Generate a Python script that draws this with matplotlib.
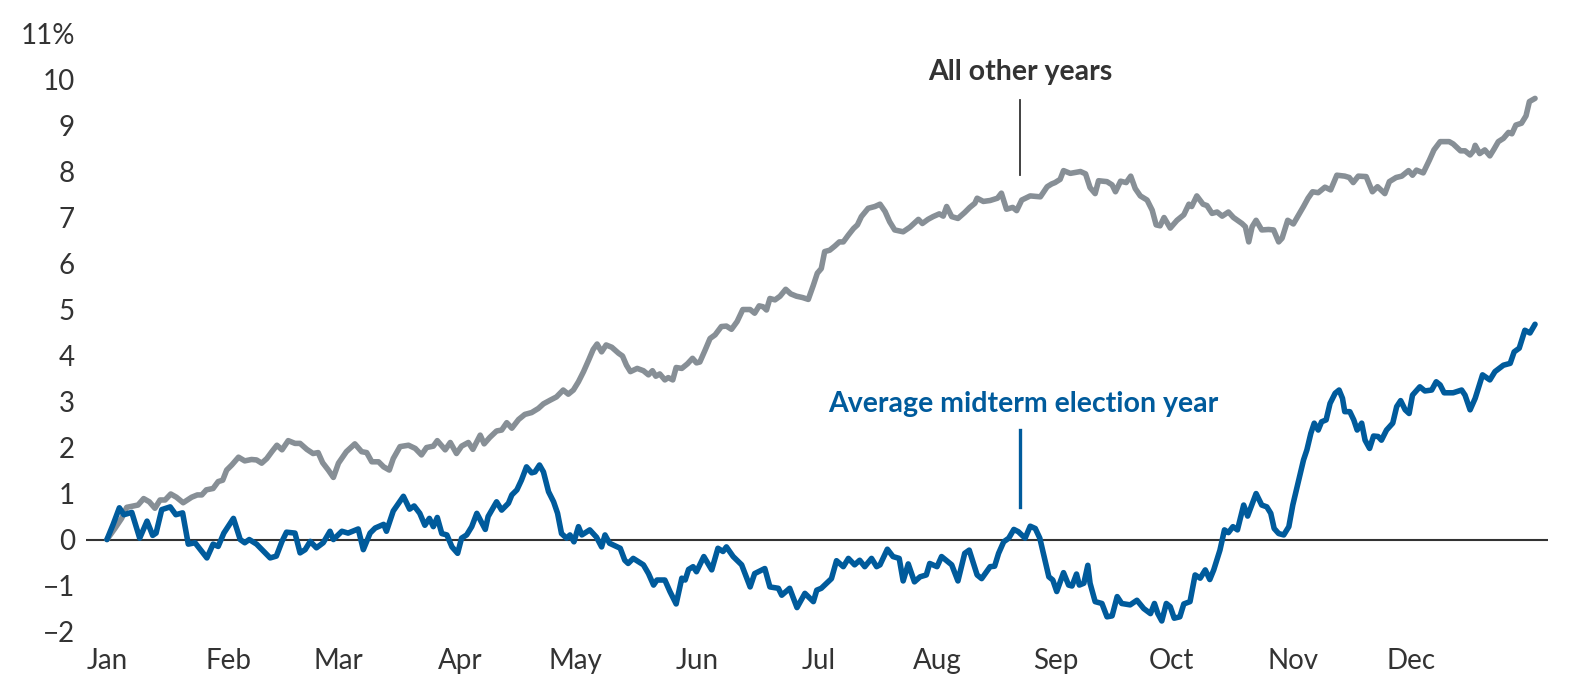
import matplotlib

matplotlib.use("Agg")
import matplotlib.pyplot as plt

# trading-day index within the year and cumulative return (%)
other_day = [
    0, 1.4, 2.6, 3.5, 4.7, 5.5, 6.5, 7.5, 8.5, 9.4, 10.3, 11.3, 12.3, 13.5, 15.0,
    16.0, 16.8, 17.6, 18.8, 19.7, 20.5, 21.2, 22.1, 23.3, 24.4, 25.6, 26.5, 27.4,
    28.3, 29.2, 30.1, 31.0, 32.1, 33.3, 34.2, 35.4, 36.5, 37.4, 38.2, 39.2, 40.1,
    41.0, 42.4, 43.9, 45.1, 46.0, 46.9, 48.1, 49.0, 50.0, 50.7, 51.9, 53.4, 54.6,
    55.7, 56.6, 57.8, 58.5, 59.9, 60.8, 61.9, 62.8, 64.0, 64.8, 66.1, 66.8, 67.8,
    69.0, 69.9, 70.8, 71.7, 72.9, 74.0, 75.2, 76.4, 77.3, 78.5, 79.6, 80.8, 81.7,
    82.6, 83.5, 84.4, 85.3, 86.1, 86.8, 87.6, 88.4, 89.4, 90.6, 91.3, 92.0, 92.7,
    93.9, 95.0, 95.9, 96.6, 97.2, 97.9, 98.8, 99.4, 100.2, 100.8, 101.8, 102.8,
    103.7, 104.4, 105.0, 105.9, 106.8, 107.7, 108.8, 109.7, 110.6, 111.6, 112.6,
    113.9, 114.7, 115.5, 116.2, 116.8, 117.4, 118.3, 119.2, 120.2, 121.1, 122.1,
    123.2, 124.2, 125.1, 125.8, 126.5, 127.1, 128.0, 128.9, 129.7, 130.4, 131.3,
    132.2, 132.9, 133.6, 134.8, 136.0, 136.9, 137.8, 138.6, 139.5, 141.0, 142.2,
    143.7, 144.4, 145.4, 146.3, 147.4, 148.1, 148.7, 149.6, 150.7, 151.9, 152.8,
    153.7, 154.1, 155.2, 156.4, 157.7, 158.4, 159.3, 160.4, 161.1, 162.0, 163.5,
    165.3, 166.5, 167.3, 167.9, 168.8, 169.4, 170.6, 172.4, 173.3, 174.1, 175.0,
    175.6, 177.1, 178.0, 178.6, 179.5, 180.5, 181.3, 182.1, 183.0, 184.2, 185.1,
    185.8, 186.5, 187.2, 188.3, 189.5, 190.7, 191.6, 192.1, 193.0, 194.1, 194.8,
    195.7, 196.6, 197.5, 198.6, 199.5, 201.0, 201.6, 202.2, 202.8, 203.5, 204.5,
    205.7, 206.6, 207.5, 208.1, 209.1, 210.1, 211.9, 212.7, 213.5, 214.5, 215.7,
    216.7, 217.8, 219.2, 220.0, 220.7, 221.6, 223.0, 224.1, 225.0, 226.3, 227.1,
    228.3, 229.3, 230.5, 231.2, 231.9, 233.1, 234.2, 235.0, 236.1, 237.7, 238.4,
    239.7, 240.5, 241.4, 242.0, 242.3, 243.1, 244.0, 244.9, 245.6, 246.4, 247.3,
    248.2, 248.8, 249.5, 250.5, 251.3, 251.9, 252.9,
]
other_val = [
    0, 0.24, 0.46, 0.70, 0.73, 0.75, 0.89, 0.82, 0.68, 0.86, 0.86, 0.99, 0.92, 0.80, 0.92,
    0.97, 0.97, 1.08, 1.11, 1.26, 1.29, 1.51, 1.62, 1.79, 1.71, 1.74, 1.73, 1.66,
    1.76, 1.91, 2.05, 1.95, 2.15, 2.09, 2.09, 1.96, 1.87, 1.89, 1.67, 1.51, 1.35,
    1.66, 1.91, 2.08, 1.91, 1.89, 1.69, 1.69, 1.58, 1.51, 1.76, 2.02, 2.05, 1.98,
    1.84, 2.00, 2.03, 2.15, 1.95, 2.11, 1.87, 2.03, 2.11, 1.96, 2.27, 2.08, 2.22,
    2.36, 2.38, 2.54, 2.42, 2.61, 2.72, 2.76, 2.85, 2.95, 3.03, 3.10, 3.25, 3.16,
    3.25, 3.43, 3.65, 3.90, 4.13, 4.25, 4.08, 4.23, 4.18, 4.05, 3.99, 3.79, 3.65,
    3.72, 3.67, 3.58, 3.67, 3.55, 3.60, 3.47, 3.52, 3.47, 3.74, 3.72, 3.82,
    3.94, 3.84, 3.86, 4.11, 4.37, 4.45, 4.63, 4.64, 4.57, 4.74, 5.00,
    5.00, 4.92, 5.08, 5.06, 4.99, 5.24, 5.21, 5.29, 5.44, 5.34, 5.29,
    5.26, 5.22, 5.53, 5.79, 5.89, 6.26, 6.29, 6.38, 6.47, 6.47, 6.62,
    6.76, 6.84, 7.02, 7.20, 7.24, 7.29, 7.13, 6.91, 6.73, 6.69, 6.79,
    6.96, 6.87, 6.96, 7.02, 7.08, 7.03, 7.24, 7.02, 6.98, 7.11, 7.22,
    7.31, 7.42, 7.35, 7.37, 7.42, 7.53, 7.18, 7.22, 7.15, 7.38, 7.47,
    7.45, 7.67, 7.73, 7.76, 7.83, 8.02, 7.96, 8.00, 7.95, 7.65, 7.52,
    7.80, 7.78, 7.71, 7.56, 7.79, 7.76, 7.90, 7.63, 7.47, 7.38, 7.16,
    6.84, 6.82, 7.00, 6.77, 6.94, 7.06, 7.29, 7.24, 7.47, 7.29, 7.26,
    7.09, 7.12, 7.03, 7.12, 7.00, 6.87, 6.80, 6.47, 6.80, 6.94, 6.73,
    6.74, 6.73, 6.47, 6.55, 6.94, 6.86, 7.24, 7.42, 7.56, 7.54, 7.66,
    7.60, 7.92, 7.90, 7.87, 7.76, 7.90, 7.89, 7.56, 7.67, 7.52, 7.78,
    7.87, 7.90, 8.02, 7.92, 8.03, 7.97, 8.25, 8.47, 8.65, 8.65, 8.60,
    8.45, 8.45, 8.36, 8.45, 8.57, 8.39, 8.47, 8.34, 8.48, 8.65, 8.72,
    8.85, 8.82, 9.01, 9.05, 9.21, 9.52, 9.59,
]

midterm_day = [
    0, 1.1, 2.2, 3.0, 4.4, 5.8, 7.1, 8.1, 8.7, 9.7, 11.2, 12.2, 13.4, 14.4, 15.6,
    17.7, 18.8, 19.7, 20.7, 22.4, 23.6, 24.4, 25.2, 26.5, 27.7, 28.9, 30.0, 31.0,
    31.8, 33.3, 34.2, 35.1, 36.0, 37.1, 38.3, 39.5, 40.1, 41.6, 42.7, 44.5, 45.4,
    46.6, 47.5, 49.0, 49.5, 50.7, 52.5, 53.6, 54.4, 55.4, 56.3, 57.1, 57.8, 58.5,
    59.3, 60.2, 61.1, 62.1, 62.8, 63.7, 64.6, 65.5, 67.0, 67.5, 69.0, 69.9, 71.1,
    71.7, 72.6, 73.4, 74.3, 75.2, 75.8, 76.6, 77.3, 78.2, 79.1, 79.8, 80.5, 81.4,
    82.0, 82.7, 83.5, 84.1, 85.5, 86.7, 87.6, 88.2, 89.0, 90.9, 91.7, 92.3, 93.2,
    95.0, 95.9, 96.8, 97.4, 98.8, 99.7, 100.8, 101.8, 102.4, 103.0, 103.8, 104.4,
    105.7, 107.1, 108.2, 109.1, 109.7, 110.9, 112.4, 113.9, 114.7, 116.5, 117.4,
    118.9, 119.5, 120.9, 122.2, 123.6, 125.1, 125.7, 126.5, 128.3, 129.2, 130.4,
    131.3, 132.4, 133.3, 134.2, 135.4, 136.3, 136.9, 138.2, 139.2, 140.3, 141.0,
    141.9, 143.0, 144.0, 145.1, 145.7, 147.0, 147.8, 149.6, 150.7, 151.9, 152.7,
    154.1, 154.9, 156.4, 157.2, 157.9, 158.8, 159.7, 160.6, 161.4, 162.6, 163.5,
    164.4, 165.2, 165.9, 166.8, 167.5, 168.2, 169.4, 170.3, 170.9, 171.7, 172.2,
    173.0, 173.7, 174.1, 175.0, 176.2, 177.1, 178.0, 178.9, 179.7, 181.2, 182.4,
    183.6, 184.8, 185.5, 186.1, 186.8, 187.6, 188.3, 189.0, 190.0, 190.7, 191.8,
    192.7, 193.6, 194.5, 195.3, 196.0, 197.1, 197.9, 198.6, 199.4, 200.2, 201.3,
    202.0, 203.5, 204.5, 205.4, 206.1, 206.7, 207.5, 208.4, 209.3, 210.0, 211.2,
    211.9, 212.5, 213.2, 213.8, 214.5, 215.1, 215.9, 216.6, 217.5, 218.2, 218.8,
    219.2, 220.1, 220.8, 221.4, 222.2, 222.8, 223.6, 224.3, 225.1, 225.7, 226.6,
    227.7, 228.4, 229.1, 229.9, 230.6, 231.2, 232.5, 233.4, 234.6, 235.4, 236.1,
    236.8, 238.4, 239.9, 240.5, 241.4, 242.3, 243.6, 244.9, 245.8, 247.3, 248.5,
    249.2, 250.1, 251.1, 252.0, 252.9,
]
midterm_val = [
    0, 0.33, 0.69, 0.54, 0.59, 0.03, 0.40, 0.09, 0.14, 0.65, 0.71, 0.54, 0.58, -0.10, -0.07,
    -0.40, -0.10, -0.15, 0.14, 0.46, 0.00, -0.07, 0.00, -0.10, -0.25, -0.40, -0.36, -0.04,
    0.16, 0.14, -0.29, -0.22, -0.04, -0.18, -0.07, 0.18, 0.00, 0.18, 0.14, 0.23, -0.22,
    0.14, 0.25, 0.33, 0.18, 0.62, 0.94, 0.66, 0.73, 0.57, 0.31, 0.46, 0.28, 0.48,
    0.13, 0.10, -0.16, -0.30, 0.03, 0.10, 0.28, 0.57, 0.22, 0.50, 0.82, 0.64, 0.79,
    0.97, 1.08, 1.29, 1.58, 1.45, 1.47, 1.62, 1.47, 1.04, 0.82, 0.57, 0.13, 0.03,
    0.10, -0.05, 0.28, 0.10, 0.21, 0.05, -0.16, 0.10, -0.08, -0.19, -0.45, -0.52, -0.41,
    -0.55, -0.74, -0.99, -0.88, -0.88, -1.13, -1.40, -0.84, -0.88, -0.65, -0.59, -0.70,
    -0.37, -0.66, -0.19, -0.26, -0.16, -0.37, -0.55, -1.03, -0.74, -0.63, -1.03,
    -1.06, -1.21, -1.06, -1.48, -1.17, -1.35, -1.10, -1.06, -0.85, -0.46, -0.59,
    -0.41, -0.55, -0.45, -0.59, -0.41, -0.59, -0.55, -0.21, -0.37, -0.41, -0.90,
    -0.53, -0.92, -0.81, -0.77, -0.52, -0.59, -0.37, -0.55, -0.90, -0.30, -0.23,
    -0.77, -0.85, -0.59, -0.58, -0.30, -0.05, 0.03, 0.22, 0.17, 0.03, 0.29,
    0.24, 0.03, -0.34, -0.81, -0.88, -1.13, -0.72, -0.99, -1.01, -0.75, -0.99,
    -0.95, -0.56, -0.95, -1.35, -1.39, -1.68, -1.66, -1.24, -1.39, -1.42, -1.32,
    -1.50, -1.61, -1.39, -1.61, -1.77, -1.39, -1.46, -1.71, -1.68, -1.40, -1.35,
    -0.77, -0.84, -0.66, -0.87, -0.66, -0.23, 0.21, 0.15, 0.28, 0.21, 0.75,
    0.51, 1.00, 0.75, 0.71, 0.57, 0.24, 0.13, 0.10, 0.28, 0.75, 1.37,
    1.73, 1.95, 2.31, 2.53, 2.38, 2.56, 2.60, 2.96, 3.18, 3.25, 3.07,
    2.78, 2.78, 2.60, 2.38, 2.53, 2.16, 1.98, 2.25, 2.24, 2.16, 2.38,
    2.53, 2.89, 3.02, 2.82, 2.74, 3.14, 3.32, 3.23, 3.25, 3.43, 3.36,
    3.19, 3.19, 3.25, 3.14, 2.82, 3.07, 3.58, 3.47, 3.65, 3.79, 3.83,
    4.08, 4.16, 4.55, 4.49, 4.68,
]

month_start = [0, 21.5, 41, 62.5, 83, 104.5, 126, 147, 168, 188.5, 210, 231]
month_labels = ["Jan", "Feb", "Mar", "Apr", "May", "Jun",
                "Jul", "Aug", "Sep", "Oct", "Nov", "Dec"]
y_ticks = list(range(-2, 12))
y_labels = ["\u22122", "\u22121"] + [str(v) for v in range(0, 11)] + ["11%"]

GRAY = "#878f96"
BLUE = "#005b9c"
DARK = "#333333"
FONT = ["Lato", "DejaVu Sans"]

fig = plt.figure(figsize=(15.74, 6.94), dpi=100)
ax = fig.add_axes([0.0546, 0.090, 0.9289, 0.8617])

ax.axhline(0, color=DARK, lw=1.5, zorder=1)
ax.plot(other_day, other_val, color=GRAY, lw=4.0, solid_joinstyle="round",
        solid_capstyle="round", zorder=2, clip_on=False)
ax.plot(midterm_day, midterm_val, color=BLUE, lw=4.0, solid_joinstyle="round",
        solid_capstyle="round", zorder=3, clip_on=False)

ax.set_xlim(-3.72, 255.2)
ax.set_ylim(-2, 11)

ax.set_yticks(y_ticks)
ax.set_yticklabels(y_labels, fontfamily=FONT, fontweight="normal", fontsize=20, color=DARK)
ax.set_xticks(month_start)
ax.set_xticklabels(month_labels, fontfamily=FONT, fontweight="normal", fontsize=20, color=DARK)
ax.tick_params(axis="y", length=0, pad=8)
ax.tick_params(axis="x", length=0, pad=12)
for side in ax.spines.values():
    side.set_visible(False)

# callouts
ax.text(161.7, 10.16, "All other years", ha="center", va="center",
        fontfamily=FONT, fontweight="bold", fontsize=20.5, color=DARK)
ax.plot([161.7, 161.7], [9.55, 7.92], color=DARK, lw=1.3)
ax.text(162.3, 2.95, "Average midterm election year", ha="center", va="center",
        fontfamily=FONT, fontweight="bold", fontsize=20.5, color=BLUE)
ax.plot([161.7, 161.7], [2.38, 0.71], color=BLUE, lw=2.4)

fig.savefig("out.png", dpi=100)
